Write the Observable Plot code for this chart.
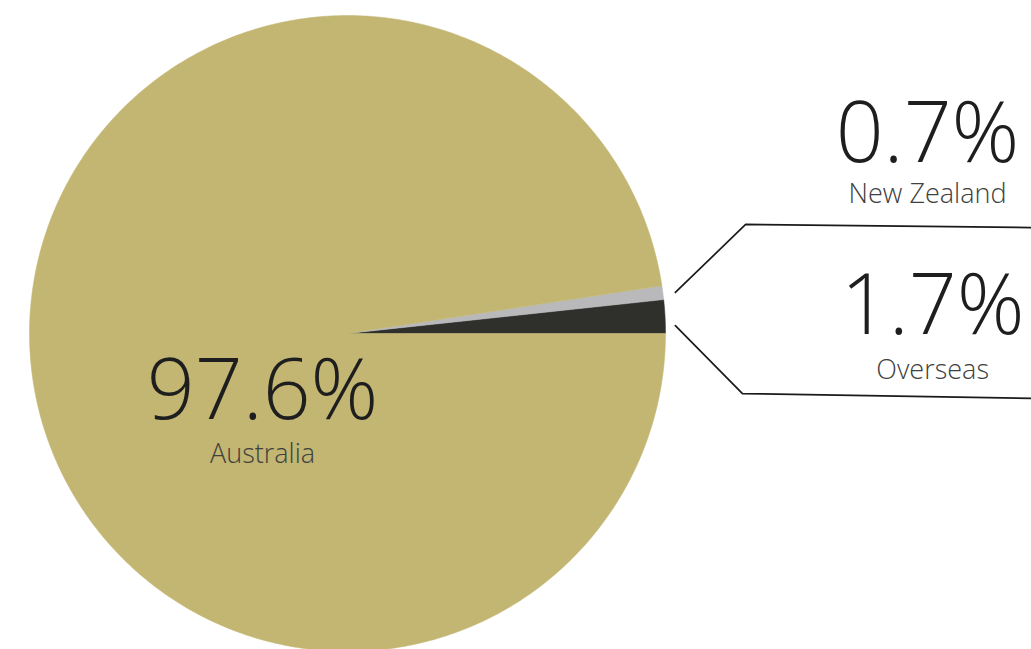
<!DOCTYPE html>
<html><head><meta charset="utf-8">
<script src="https://cdn.jsdelivr.net/npm/d3@7"></script>
<script src="https://cdn.jsdelivr.net/npm/@observablehq/plot@0.6"></script>
<style>body{margin:0;background:#fff;overflow:hidden}</style></head>
<body><div id="chart"></div>
<script>
// ---- data ----
const regions = ["Overseas", "New Zealand", "Australia"];
const shares = [1.7, 0.7, 97.6];
const valueLabels = ["1.7%", "0.7%", "97.6%"];
const colors = ["#2f302b", "#b9b9bb", "#c2b672"];

// ---- slices: counter-clockwise from 3 o'clock, as polygons on a unit circle ----
const total = d3.sum(shares);
let acc = 0;
const slicePts = [];
regions.forEach((r, i) => {
  const a0 = acc / total * 2 * Math.PI;
  acc += shares[i];
  const a1 = acc / total * 2 * Math.PI;
  const n = Math.max(4, Math.ceil((a1 - a0) / (Math.PI / 360)));
  slicePts.push({region: r, x: 0, y: 0});
  for (let k = 0; k <= n; k++) {
    const a = a0 + (a1 - a0) * k / n;
    slicePts.push({region: r, x: Math.cos(a), y: Math.sin(a)});
  }
  slicePts.push({region: r, x: 0, y: 0});
});

const rows = regions.map((r, i) => ({region: r, value: valueLabels[i]}));
// label placement (data units of the unit-circle scales)
const place = {
  "Australia":   {x: -0.267, vy: -0.184, ly: -0.380},
  "New Zealand": {x: 1.824,  vy: 0.624,  ly: 0.436},
  "Overseas":    {x: 1.840,  vy: 0.083,  ly: -0.116}
};
const connectors = [
  {g: "nz", x: 1.031, y: 0.129}, {g: "nz", x: 1.252, y: 0.343}, {g: "nz", x: 2.151, y: 0.333},
  {g: "os", x: 1.031, y: 0.025}, {g: "os", x: 1.242, y: -0.189}, {g: "os", x: 2.151, y: -0.204}
];

const font = "'Open Sans', 'Noto Sans', sans-serif";
const chart = Plot.plot({
  width: 1031,
  height: 649,
  margin: 0,
  style: {background: "#ffffff", fontFamily: font, overflow: "visible"},
  x: {domain: [-1, 1], range: [29, 665], axis: null},
  y: {domain: [-1, 1], range: [651, 15], axis: null},
  color: {domain: regions, range: colors},
  marks: [
    Plot.line(slicePts, {x: "x", y: "y", z: "region", fill: "region", stroke: "region", strokeWidth: 0.5, curve: "linear"}),
    Plot.line(connectors, {x: "x", y: "y", z: "g", stroke: "#1a1a1a", strokeWidth: 1.7}),
    Plot.text(rows, {x: d => place[d.region].x, y: d => place[d.region].vy, text: "value",
      fontSize: 84, fontWeight: 300, fill: "#1e1e1e", textAnchor: "middle", lineAnchor: "middle"}),
    Plot.text(rows, {x: d => place[d.region].x, y: d => place[d.region].ly, text: "region",
      fontSize: 27, fontWeight: 300, fill: "#404040", textAnchor: "middle", lineAnchor: "middle"})
  ]
});
document.getElementById("chart").append(chart);
</script>
</body></html>
